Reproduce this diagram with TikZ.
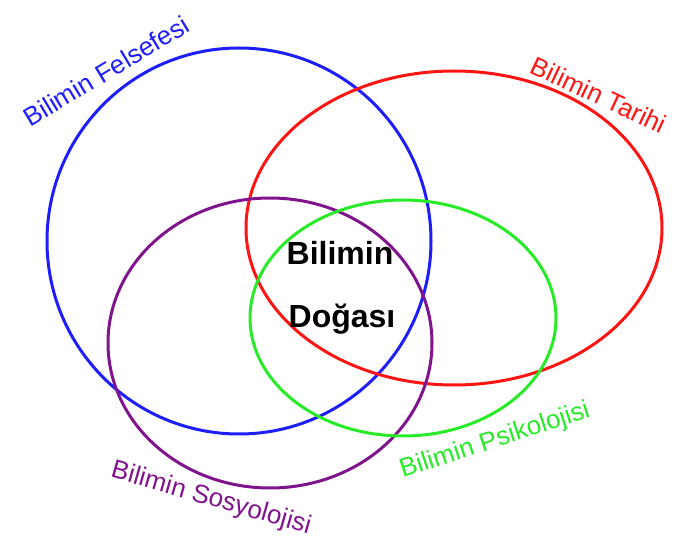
\documentclass[tikz,border=0pt]{standalone}
\usepackage{fontspec}
\setmainfont{Liberation Sans}
\usepackage{tikz}

\definecolor{felsefe}{RGB}{30,30,250}
\definecolor{tarih}{RGB}{255,20,20}
\definecolor{sosyo}{RGB}{128,20,140}
\definecolor{psiko}{RGB}{40,235,40}

\tikzset{
  ring/.style={line width=3pt},
  lbl/.style={font=\fontsize{26}{30}\selectfont, inner sep=0pt},
  core/.style={font=\bfseries\fontsize{32}{36}\selectfont, inner sep=0pt}
}

\begin{document}
\begin{tikzpicture}[x=1pt,y=-1pt]
\path[use as bounding box] (0,0) rectangle (678,545);
% circles
\draw[ring,felsefe] (239,241) ellipse (192 and 193);
\draw[ring,tarih] (454,228) ellipse (208 and 157);
\draw[ring,sosyo] (270,343) ellipse (162 and 145);
\draw[ring,psiko] (403,318) ellipse (153 and 118);
% labels
\node[lbl,felsefe,rotate=31] (felsefesi) at (106,71) {Bilimin Felsefesi};
\node[lbl,tarih,rotate=-25] (tarihi) at (599,95) {Bilimin Tarihi};
\node[lbl,sosyo,rotate=-16] (sosyolojisi) at (211,499) {Bilimin Sosyolojisi};
\node[lbl,psiko,rotate=18] (psikolojisi) at (495,441) {Bilimin Psikolojisi};
\node[core] (bilimin) at (340,253) {Bilimin};
\node[core] (dogasi) at (342,319) {Doğası};
\end{tikzpicture}
\end{document}
